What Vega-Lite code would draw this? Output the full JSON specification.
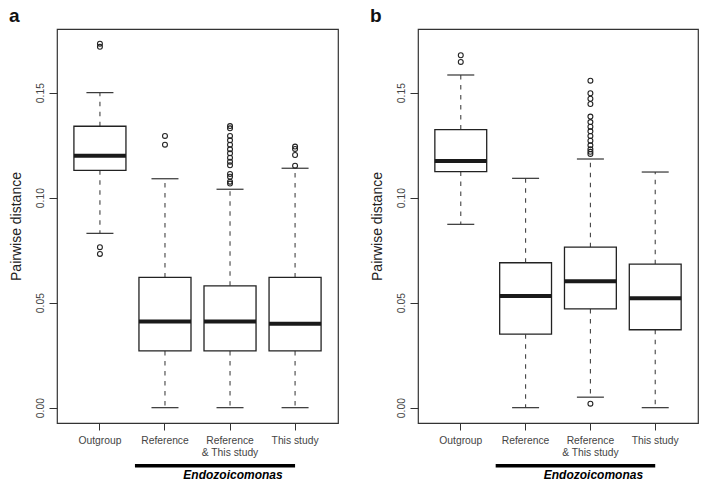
{
  "$schema": "https://vega.github.io/schema/vega-lite/v6.json",
  "background": "white",
  "padding": {"left": 8, "top": 6, "right": 5, "bottom": 5},
  "spacing": 30,
  "config": {
    "font": "Liberation Sans",
    "view": {"stroke": "#333", "strokeWidth": 1.2},
    "axisY": {"labelAngle": 270, "labelAlign": "center", "labelBaseline": "bottom", "labelFontSize": 10.3, "labelColor": "#444", "tickSize": 8, "tickColor": "#333", "domain": false, "grid": false, "labelPadding": 4, "titleFontSize": 14, "titleFontWeight": "normal", "titleColor": "#222", "titlePadding": 12},
    "axisX": {"labelAngle": 0, "tickSize": 7, "tickColor": "#333", "labelFontSize": 10.3, "labelColor": "#444", "labelPadding": 5, "labelLineHeight": 12.3, "domain": false, "grid": false, "labelExpr": "datum.label == 'Reference & This study' ? ['Reference', '& This study'] : datum.label"},
    "title": {"anchor": "start", "frame": "bounds", "fontSize": 19, "fontWeight": "bold", "color": "#111", "offset": 3},
    "tick": {"opacity": 1},
    "point": {"opacity": 1}
  },
  "datasets": {
    "boxes": [
      {"panel": "a", "group": "Outgroup", "lower": 0.083, "q1": 0.113, "median": 0.120, "q3": 0.134, "upper": 0.150},
      {"panel": "a", "group": "Reference", "lower": 0.0, "q1": 0.027, "median": 0.041, "q3": 0.062, "upper": 0.109},
      {"panel": "a", "group": "Reference & This study", "lower": 0.0, "q1": 0.027, "median": 0.041, "q3": 0.058, "upper": 0.104},
      {"panel": "a", "group": "This study", "lower": 0.0, "q1": 0.027, "median": 0.040, "q3": 0.062, "upper": 0.114},
      {"panel": "b", "group": "Outgroup", "lower": 0.0873, "q1": 0.1124, "median": 0.1175, "q3": 0.1324, "upper": 0.1584},
      {"panel": "b", "group": "Reference", "lower": 0.0, "q1": 0.035, "median": 0.0532, "q3": 0.069, "upper": 0.1092},
      {"panel": "b", "group": "Reference & This study", "lower": 0.005, "q1": 0.047, "median": 0.0602, "q3": 0.0764, "upper": 0.1184},
      {"panel": "b", "group": "This study", "lower": 0.0, "q1": 0.0371, "median": 0.0521, "q3": 0.0683, "upper": 0.1122}
    ],
    "outliers": [
      {"panel": "a", "group": "Outgroup", "value": 0.1733},
      {"panel": "a", "group": "Outgroup", "value": 0.1718},
      {"panel": "a", "group": "Outgroup", "value": 0.0764},
      {"panel": "a", "group": "Outgroup", "value": 0.0732},
      {"panel": "a", "group": "Reference", "value": 0.1294},
      {"panel": "a", "group": "Reference", "value": 0.1252},
      {"panel": "a", "group": "Reference & This study", "value": 0.1341},
      {"panel": "a", "group": "Reference & This study", "value": 0.1330},
      {"panel": "a", "group": "Reference & This study", "value": 0.1294},
      {"panel": "a", "group": "Reference & This study", "value": 0.1273},
      {"panel": "a", "group": "Reference & This study", "value": 0.1252},
      {"panel": "a", "group": "Reference & This study", "value": 0.1230},
      {"panel": "a", "group": "Reference & This study", "value": 0.1211},
      {"panel": "a", "group": "Reference & This study", "value": 0.1190},
      {"panel": "a", "group": "Reference & This study", "value": 0.1171},
      {"panel": "a", "group": "Reference & This study", "value": 0.1154},
      {"panel": "a", "group": "Reference & This study", "value": 0.1113},
      {"panel": "a", "group": "Reference & This study", "value": 0.1100},
      {"panel": "a", "group": "Reference & This study", "value": 0.1076},
      {"panel": "a", "group": "Reference & This study", "value": 0.1067},
      {"panel": "a", "group": "This study", "value": 0.1243},
      {"panel": "a", "group": "This study", "value": 0.1232},
      {"panel": "a", "group": "This study", "value": 0.1203},
      {"panel": "a", "group": "This study", "value": 0.1152},
      {"panel": "b", "group": "Outgroup", "value": 0.1678},
      {"panel": "b", "group": "Outgroup", "value": 0.1646},
      {"panel": "b", "group": "Reference & This study", "value": 0.1557},
      {"panel": "b", "group": "Reference & This study", "value": 0.1497},
      {"panel": "b", "group": "Reference & This study", "value": 0.1471},
      {"panel": "b", "group": "Reference & This study", "value": 0.1446},
      {"panel": "b", "group": "Reference & This study", "value": 0.1386},
      {"panel": "b", "group": "Reference & This study", "value": 0.1360},
      {"panel": "b", "group": "Reference & This study", "value": 0.1338},
      {"panel": "b", "group": "Reference & This study", "value": 0.1316},
      {"panel": "b", "group": "Reference & This study", "value": 0.1294},
      {"panel": "b", "group": "Reference & This study", "value": 0.1271},
      {"panel": "b", "group": "Reference & This study", "value": 0.1249},
      {"panel": "b", "group": "Reference & This study", "value": 0.1230},
      {"panel": "b", "group": "Reference & This study", "value": 0.1218},
      {"panel": "b", "group": "Reference & This study", "value": 0.1208},
      {"panel": "b", "group": "Reference & This study", "value": 0.0019}
    ],
    "taxon": [
      {"panel": "a", "from": "Reference", "to": "This study", "name": "Endozoicomonas"},
      {"panel": "b", "from": "Reference", "to": "This study", "name": "Endozoicomonas"}
    ]
  },
  "hconcat": [
    {
      "width": 281, "height": 394,
      "title": {"text": "a"},
      "layer": [
        {"data": {"name": "boxes"}, "transform": [{"filter": "datum.panel == 'a'"}],
         "mark": {"type": "rule", "strokeDash": [4.5, 5.5], "color": "#444", "strokeWidth": 1.1},
         "encoding": {"x": {"field": "group", "type": "nominal", "title": null, "scale": {"domain": ["Outgroup", "Reference", "Reference & This study", "This study"], "paddingInner": 0.2, "paddingOuter": 0.26}},
           "y": {"field": "q3", "type": "quantitative", "title": "Pairwise distance", "scale": {"domain": [-0.0073, 0.1803], "nice": false, "zero": false}, "axis": {"values": [0, 0.05, 0.1, 0.15], "format": ".2f"}}, "y2": {"field": "upper"}}},
        {"data": {"name": "boxes"}, "transform": [{"filter": "datum.panel == 'a'"}],
         "mark": {"type": "rule", "strokeDash": [4.5, 5.5], "color": "#444", "strokeWidth": 1.1},
         "encoding": {"x": {"field": "group", "type": "nominal", "title": null},
           "y": {"field": "q1", "type": "quantitative", "title": "Pairwise distance"}, "y2": {"field": "lower"}}},
        {"data": {"name": "boxes"}, "transform": [{"filter": "datum.panel == 'a'"}],
         "mark": {"type": "tick", "size": 27, "thickness": 1.2, "color": "#333"},
         "encoding": {"x": {"field": "group", "type": "nominal", "title": null},
           "y": {"field": "upper", "type": "quantitative", "title": "Pairwise distance"}}},
        {"data": {"name": "boxes"}, "transform": [{"filter": "datum.panel == 'a'"}],
         "mark": {"type": "tick", "size": 27, "thickness": 1.2, "color": "#333"},
         "encoding": {"x": {"field": "group", "type": "nominal", "title": null},
           "y": {"field": "lower", "type": "quantitative", "title": "Pairwise distance"}}},
        {"data": {"name": "boxes"}, "transform": [{"filter": "datum.panel == 'a'"}],
         "mark": {"type": "bar", "fill": "white", "stroke": "#222", "strokeWidth": 1.3},
         "encoding": {"x": {"field": "group", "type": "nominal", "title": null},
           "y": {"field": "q1", "type": "quantitative", "title": "Pairwise distance"}, "y2": {"field": "q3"}}},
        {"data": {"name": "boxes"}, "transform": [{"filter": "datum.panel == 'a'"}],
         "mark": {"type": "tick", "size": 52, "thickness": 4, "color": "#1a1a1a"},
         "encoding": {"x": {"field": "group", "type": "nominal", "title": null},
           "y": {"field": "median", "type": "quantitative", "title": "Pairwise distance"}}},
        {"data": {"name": "outliers"}, "transform": [{"filter": "datum.panel == 'a'"}],
         "mark": {"type": "point", "shape": "circle", "filled": false, "size": 24, "strokeWidth": 1.1, "color": "#222"},
         "encoding": {"x": {"field": "group", "type": "nominal", "title": null},
           "y": {"field": "value", "type": "quantitative", "title": "Pairwise distance"}}},
        {"data": {"name": "taxon"}, "transform": [{"filter": "datum.panel == 'a'"}],
         "mark": {"type": "rule", "strokeWidth": 3.5, "color": "#000"},
         "encoding": {"x": {"field": "from", "type": "nominal", "title": null, "bandPosition": -0.077}, "x2": {"field": "to"},
           "y": {"datum": -0.0276, "type": "quantitative", "title": "Pairwise distance"}}},
        {"data": {"name": "taxon"}, "transform": [{"filter": "datum.panel == 'a'"}],
         "mark": {"type": "text", "fontSize": 12, "fontWeight": "bold", "fontStyle": "italic", "color": "#000", "baseline": "middle", "dx": 3},
         "encoding": {"x": {"datum": "Reference & This study", "type": "nominal", "title": null},
           "y": {"datum": -0.0322, "type": "quantitative", "title": "Pairwise distance"}, "text": {"field": "name"}}}
      ]
    },
    {
      "width": 280, "height": 394,
      "title": {"text": "b"},
      "layer": [
        {"data": {"name": "boxes"}, "transform": [{"filter": "datum.panel == 'b'"}],
         "mark": {"type": "rule", "strokeDash": [4.5, 5.5], "color": "#444", "strokeWidth": 1.1},
         "encoding": {"x": {"field": "group", "type": "nominal", "title": null, "scale": {"domain": ["Outgroup", "Reference", "Reference & This study", "This study"], "paddingInner": 0.2, "paddingOuter": 0.26}},
           "y": {"field": "q3", "type": "quantitative", "title": "Pairwise distance", "scale": {"domain": [-0.0073, 0.1803], "nice": false, "zero": false}, "axis": {"values": [0, 0.05, 0.1, 0.15], "format": ".2f"}}, "y2": {"field": "upper"}}},
        {"data": {"name": "boxes"}, "transform": [{"filter": "datum.panel == 'b'"}],
         "mark": {"type": "rule", "strokeDash": [4.5, 5.5], "color": "#444", "strokeWidth": 1.1},
         "encoding": {"x": {"field": "group", "type": "nominal", "title": null},
           "y": {"field": "q1", "type": "quantitative", "title": "Pairwise distance"}, "y2": {"field": "lower"}}},
        {"data": {"name": "boxes"}, "transform": [{"filter": "datum.panel == 'b'"}],
         "mark": {"type": "tick", "size": 27, "thickness": 1.2, "color": "#333"},
         "encoding": {"x": {"field": "group", "type": "nominal", "title": null},
           "y": {"field": "upper", "type": "quantitative", "title": "Pairwise distance"}}},
        {"data": {"name": "boxes"}, "transform": [{"filter": "datum.panel == 'b'"}],
         "mark": {"type": "tick", "size": 27, "thickness": 1.2, "color": "#333"},
         "encoding": {"x": {"field": "group", "type": "nominal", "title": null},
           "y": {"field": "lower", "type": "quantitative", "title": "Pairwise distance"}}},
        {"data": {"name": "boxes"}, "transform": [{"filter": "datum.panel == 'b'"}],
         "mark": {"type": "bar", "fill": "white", "stroke": "#222", "strokeWidth": 1.3},
         "encoding": {"x": {"field": "group", "type": "nominal", "title": null},
           "y": {"field": "q1", "type": "quantitative", "title": "Pairwise distance"}, "y2": {"field": "q3"}}},
        {"data": {"name": "boxes"}, "transform": [{"filter": "datum.panel == 'b'"}],
         "mark": {"type": "tick", "size": 52, "thickness": 4, "color": "#1a1a1a"},
         "encoding": {"x": {"field": "group", "type": "nominal", "title": null},
           "y": {"field": "median", "type": "quantitative", "title": "Pairwise distance"}}},
        {"data": {"name": "outliers"}, "transform": [{"filter": "datum.panel == 'b'"}],
         "mark": {"type": "point", "shape": "circle", "filled": false, "size": 24, "strokeWidth": 1.1, "color": "#222"},
         "encoding": {"x": {"field": "group", "type": "nominal", "title": null},
           "y": {"field": "value", "type": "quantitative", "title": "Pairwise distance"}}},
        {"data": {"name": "taxon"}, "transform": [{"filter": "datum.panel == 'b'"}],
         "mark": {"type": "rule", "strokeWidth": 3.5, "color": "#000"},
         "encoding": {"x": {"field": "from", "type": "nominal", "title": null, "bandPosition": -0.077}, "x2": {"field": "to"},
           "y": {"datum": -0.0276, "type": "quantitative", "title": "Pairwise distance"}}},
        {"data": {"name": "taxon"}, "transform": [{"filter": "datum.panel == 'b'"}],
         "mark": {"type": "text", "fontSize": 12, "fontWeight": "bold", "fontStyle": "italic", "color": "#000", "baseline": "middle", "dx": 3},
         "encoding": {"x": {"datum": "Reference & This study", "type": "nominal", "title": null},
           "y": {"datum": -0.0322, "type": "quantitative", "title": "Pairwise distance"}, "text": {"field": "name"}}}
      ]
    }
  ]
}
